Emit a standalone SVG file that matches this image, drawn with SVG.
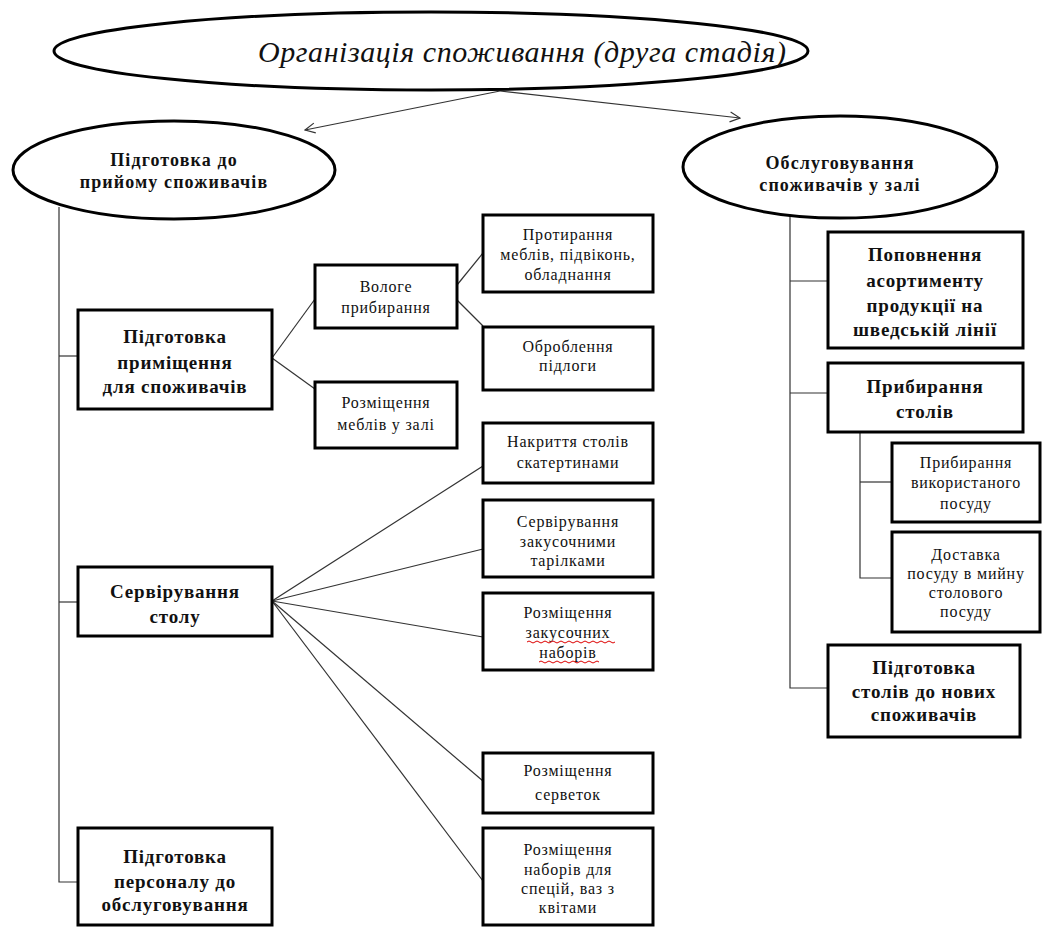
<svg xmlns="http://www.w3.org/2000/svg" width="1042" height="928" viewBox="0 0 1042 928">
  <style>
    .oval { fill: #fff; stroke: #000; stroke-width: 3; }
    .box { fill: #fff; stroke: #000; stroke-width: 3; }
    .link { fill: none; stroke: #333; stroke-width: 1.2; }
    .t { font-family: "Liberation Serif", "DejaVu Serif", "Times New Roman", serif; text-anchor: middle; fill: #111; }
    .title { font-size: 30px; font-style: italic; }
    .big { font-size: 19px; font-weight: bold; letter-spacing: 0.8px; }
    .mid { font-size: 18px; font-weight: bold; letter-spacing: 1.1px; }
    .sm { font-size: 16px; letter-spacing: 0.8px; }
    .spell { fill: none; stroke: #d00; stroke-width: 1; }
  </style>
  <defs>
    <marker id="open" viewBox="0 0 12 12" refX="11" refY="6" markerWidth="12" markerHeight="12" markerUnits="userSpaceOnUse" orient="auto">
      <path d="M1,1 L11,6 L1,11" fill="none" stroke="#333" stroke-width="1.2"/>
    </marker>
  </defs>
  <rect width="1042" height="928" fill="#fff"/>

  <!-- connectors -->
  <g id="connectors">
    <line class="link" x1="500" y1="91" x2="305" y2="130" marker-end="url(#open)"/>
    <line class="link" x1="500" y1="91" x2="740" y2="118" marker-end="url(#open)"/>
    <!-- left trunk -->
    <polyline class="link" points="59,207 59,882 78,882"/>
    <line class="link" x1="59" y1="356" x2="78" y2="356"/>
    <line class="link" x1="59" y1="602" x2="78" y2="602"/>
    <!-- room preparation branch -->
    <line class="link" x1="272" y1="358" x2="315" y2="299"/>
    <line class="link" x1="272" y1="358" x2="315" y2="389"/>
    <line class="link" x1="457" y1="285" x2="483" y2="253"/>
    <line class="link" x1="457" y1="300" x2="483" y2="326"/>
    <!-- table setting branch -->
    <line class="link" x1="272" y1="601" x2="483" y2="466"/>
    <line class="link" x1="272" y1="601" x2="483" y2="549"/>
    <line class="link" x1="272" y1="601" x2="483" y2="637"/>
    <line class="link" x1="272" y1="601" x2="483" y2="781"/>
    <line class="link" x1="272" y1="601" x2="483" y2="881"/>
    <!-- right trunk -->
    <polyline class="link" points="790,216 790,688 828,688"/>
    <line class="link" x1="790" y1="281" x2="828" y2="281"/>
    <line class="link" x1="790" y1="393" x2="828" y2="393"/>
    <polyline class="link" points="860,432 860,578 892,578"/>
    <line class="link" x1="860" y1="482" x2="892" y2="482"/>
  </g>

  <!-- top node -->
  <g id="n-root">
    <ellipse class="oval" cx="431" cy="51" rx="377" ry="39"/>
    <text class="t title" x="522" y="62" textLength="528" lengthAdjust="spacing">Організація споживання (друга стадія)</text>
  </g>

  <!-- left column -->
  <g id="n-prep">
    <ellipse class="oval" cx="174" cy="170" rx="161" ry="49"/>
    <text class="t mid" x="174" y="166">Підготовка до</text>
    <text class="t mid" x="174" y="188">прийому споживачів</text>
  </g>
  <g id="n-room">
    <rect class="box" x="78" y="310" width="194" height="99"/>
    <text class="t big" x="175" y="343">Підготовка</text>
    <text class="t big" x="175" y="369">приміщення</text>
    <text class="t big" x="175" y="393">для споживачів</text>
  </g>
  <g id="n-wet">
    <rect class="box" x="315" y="265" width="142" height="63"/>
    <text class="t sm" x="386" y="292">Вологе</text>
    <text class="t sm" x="386" y="313">прибирання</text>
  </g>
  <g id="n-furniture">
    <rect class="box" x="315" y="382" width="142" height="66"/>
    <text class="t sm" x="386" y="408">Розміщення</text>
    <text class="t sm" x="386" y="430">меблів у залі</text>
  </g>
  <g id="n-wipe">
    <rect class="box" x="483" y="215" width="170" height="77"/>
    <text class="t sm" x="568" y="240">Протирання</text>
    <text class="t sm" x="568" y="260">меблів, підвіконь,</text>
    <text class="t sm" x="568" y="280">обладнання</text>
  </g>
  <g id="n-floor">
    <rect class="box" x="483" y="327" width="170" height="63"/>
    <text class="t sm" x="568" y="352">Оброблення</text>
    <text class="t sm" x="568" y="371">підлоги</text>
  </g>
  <g id="n-serve">
    <rect class="box" x="78" y="567" width="194" height="69"/>
    <text class="t big" x="175" y="598">Сервірування</text>
    <text class="t big" x="175" y="623">столу</text>
  </g>
  <g id="n-cloth">
    <rect class="box" x="483" y="423" width="170" height="60"/>
    <text class="t sm" x="568" y="447">Накриття столів</text>
    <text class="t sm" x="568" y="468">скатертинами</text>
  </g>
  <g id="n-plates">
    <rect class="box" x="483" y="500" width="170" height="77"/>
    <text class="t sm" x="568" y="527">Сервірування</text>
    <text class="t sm" x="568" y="547">закусочними</text>
    <text class="t sm" x="568" y="566">тарілками</text>
  </g>
  <g id="n-sets">
    <rect class="box" x="483" y="593" width="170" height="77"/>
    <text class="t sm" x="568" y="618">Розміщення</text>
    <text class="t sm" x="568" y="638">закусочних</text>
    <text class="t sm" x="568" y="658">наборів</text>
    <path class="spell" d="M527,642 q2,-2 4,0 t4,0 t4,0 t4,0 t4,0 t4,0 t4,0 t4,0 t4,0 t4,0 t4,0 t4,0 t4,0 t4,0 t4,0 t4,0 t4,0 t4,0 t4,0 t4,0 t4,0 t4,0"/>
    <path class="spell" d="M539,662 q2,-2 4,0 t4,0 t4,0 t4,0 t4,0 t4,0 t4,0 t4,0 t4,0 t4,0 t4,0 t4,0 t4,0 t4,0 t4,0"/>
  </g>
  <g id="n-napkins">
    <rect class="box" x="483" y="753" width="170" height="60"/>
    <text class="t sm" x="568" y="776">Розміщення</text>
    <text class="t sm" x="568" y="800">серветок</text>
  </g>
  <g id="n-spices">
    <rect class="box" x="483" y="828" width="170" height="97"/>
    <text class="t sm" x="568" y="855">Розміщення</text>
    <text class="t sm" x="568" y="875">наборів для</text>
    <text class="t sm" x="568" y="894">спецій, ваз з</text>
    <text class="t sm" x="568" y="913">квітами</text>
  </g>
  <g id="n-staff">
    <rect class="box" x="78" y="828" width="194" height="97"/>
    <text class="t big" x="175" y="863">Підготовка</text>
    <text class="t big" x="175" y="888">персоналу до</text>
    <text class="t big" x="175" y="911">обслуговування</text>
  </g>

  <!-- right column -->
  <g id="n-hall">
    <ellipse class="oval" cx="840" cy="167" rx="157" ry="51"/>
    <text class="t mid" x="840" y="169">Обслуговування</text>
    <text class="t mid" x="840" y="191">споживачів у залі</text>
  </g>
  <g id="n-refill">
    <rect class="box" x="828" y="232" width="195" height="116"/>
    <text class="t big" x="925" y="261">Поповнення</text>
    <text class="t big" x="925" y="287">асортименту</text>
    <text class="t big" x="925" y="312">продукції на</text>
    <text class="t big" x="925" y="336">шведській лінії</text>
  </g>
  <g id="n-clear">
    <rect class="box" x="828" y="363" width="195" height="69"/>
    <text class="t big" x="925" y="393">Прибирання</text>
    <text class="t big" x="925" y="418">столів</text>
  </g>
  <g id="n-dishes">
    <rect class="box" x="892" y="443" width="148" height="79"/>
    <text class="t sm" x="966" y="468">Прибирання</text>
    <text class="t sm" x="966" y="488">використаного</text>
    <text class="t sm" x="966" y="509">посуду</text>
  </g>
  <g id="n-wash">
    <rect class="box" x="892" y="532" width="148" height="100"/>
    <text class="t sm" x="966" y="560">Доставка</text>
    <text class="t sm" x="966" y="579">посуду в мийну</text>
    <text class="t sm" x="966" y="598">столового</text>
    <text class="t sm" x="966" y="617">посуду</text>
  </g>
  <g id="n-reset">
    <rect class="box" x="828" y="645" width="192" height="92"/>
    <text class="t big" x="924" y="674">Підготовка</text>
    <text class="t big" x="924" y="698">столів до нових</text>
    <text class="t big" x="924" y="721">споживачів</text>
  </g>
</svg>
